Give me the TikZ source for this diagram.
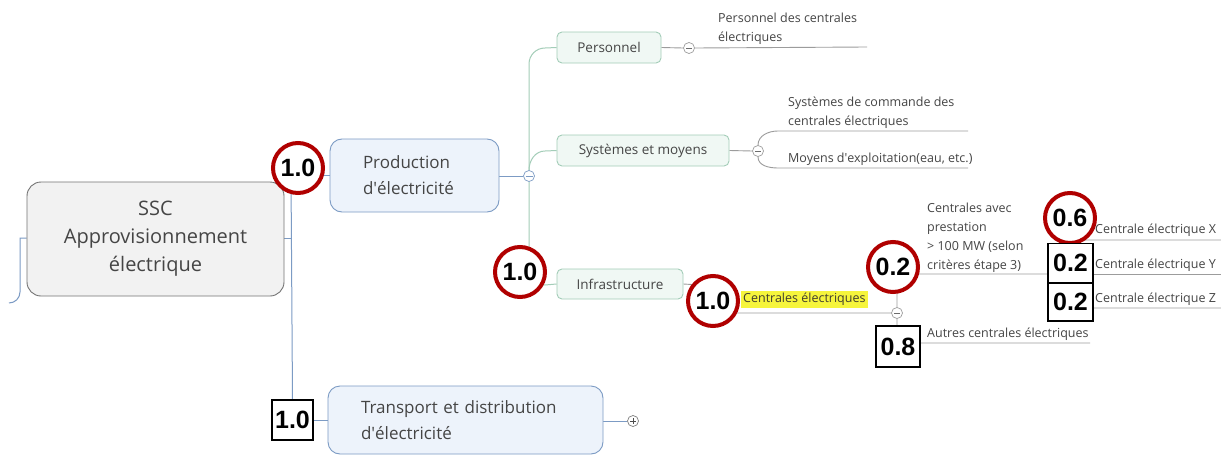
\documentclass[tikz,border=0pt]{standalone}
\usepackage{fontspec}
\setmainfont{Open Sans}
\newfontfamily\numfont{Liberation Sans}
\usetikzlibrary{positioning}
\definecolor{txt}{HTML}{454545}
\definecolor{blueln}{HTML}{7C9BC4}
\definecolor{bluefill}{HTML}{EDF3FB}
\definecolor{greenln}{HTML}{A3CDB8}
\definecolor{greenfill}{HTML}{F0F8F4}
\definecolor{grayln}{HTML}{9C9C9C}
\definecolor{redc}{HTML}{B00000}
\definecolor{hilite}{HTML}{F6F53C}
\pgfdeclarelayer{bg}
\pgfdeclarelayer{paper}
\pgfsetlayers{paper,bg,main}
\newcommand{\apos}{\textquotesingle}
\tikzset{
  mainbox/.style={draw=black!55, fill=black!5, rounded corners=14pt, line width=0.9pt, inner sep=0pt, align=center, text=txt, font=\fontsize{20}{28}\selectfont},
  bluebox/.style={draw=blueln, fill=bluefill, rounded corners=12pt, line width=0.9pt, inner ysep=0pt, align=left, text=txt, font=\fontsize{17}{26}\selectfont},
  greenbox/.style={draw=greenln, fill=greenfill, rounded corners=5pt, line width=0.9pt, inner sep=0pt, text=txt, font=\fontsize{13.5}{17}\selectfont},
  small/.style={text=txt, font=\fontsize{12.5}{19}\selectfont, align=left, inner sep=0pt, anchor=west},
  togglec/.style={circle, draw=grayln, fill=white, minimum size=11pt, inner sep=0pt, line width=0.7pt},
  redcirc/.style={circle, draw=redc, line width=4pt, fill=white, minimum size=50pt, inner sep=0pt, font=\numfont\bfseries\fontsize{25}{25}\selectfont},
  numbox/.style={draw=black, line width=1.2pt, fill=white, inner sep=0pt, font=\numfont\bfseries\fontsize{25}{25}\selectfont},
  bl/.style={draw=blueln, line width=1pt},
  gl/.style={draw=greenln, line width=1pt},
  gr/.style={draw=grayln, line width=0.9pt},
}
\begin{document}
\begin{tikzpicture}[x=1pt,y=-1pt]
\useasboundingbox (0,0) rectangle (1221,455);
\begin{pgfonlayer}{paper}
\fill[white] (0,0) rectangle (1221,455);
\end{pgfonlayer}

% main boxes
\node[mainbox, minimum width=257pt, minimum height=114pt] (ssc) at (155.5,239) {SSC\\Approvisionnement\\électrique};
\node[bluebox, minimum width=169pt, minimum height=73pt, text width=103pt, inner xsep=33pt] (prod) at (414.5,175.5) {Production\\d\apos électricité};
\node[bluebox, minimum width=275pt, minimum height=68pt, text width=209pt, inner xsep=33pt] (trans) at (465.5,420) {Transport et distribution\\d\apos électricité};

\node[greenbox, minimum width=104pt, minimum height=31pt] (pers) at (609,47.5) {Personnel};
\node[greenbox, minimum width=172pt, minimum height=31pt] (sys) at (643,150.5) {Systèmes et moyens};
\node[greenbox, minimum width=126pt, minimum height=30pt] (infra) at (620,284) {Infrastructure};

% toggles
\node[togglec, draw=blueln] (mprod) at (529,176) {};
\draw[blueln, line width=0.8pt] (525.5,176) -- (532.5,176);
\node[togglec] (mpers) at (689,48) {};
\draw[grayln!70!black, line width=0.8pt] (686,48) -- (692,48);
\node[togglec] (msys) at (758,151) {};
\draw[grayln!70!black, line width=0.8pt] (755,151) -- (761,151);
\node[togglec] (mcent) at (897,313) {};
\draw[grayln!70!black, line width=0.8pt] (894,313) -- (900,313);
\node[togglec, draw=grayln!80!black] (pltr) at (633,421) {};
\draw[black!70, line width=0.8pt] (630,421) -- (636,421) (633,418) -- (633,424);

% leaf texts
\node[small] (tpers) at (718,29) {Personnel des centrales\\électriques};
\node[small] (tsys1) at (788,112.5) {Systèmes de commande des\\centrales électriques};
\node[small] (tsys2) at (788,159) {Moyens d\apos exploitation(eau, etc.)};
\node[small, fill=hilite, inner xsep=2pt, inner ysep=2pt, text=black!60!olive!70!black, font=\fontsize{12.5}{15}\selectfont] (tcent) at (741,299.5) {Centrales électriques};
\node[small] (tavec) at (927,238) {Centrales avec\\prestation\\> 100 MW (selon\\critères étape 3)};
\node[small] (tautres) at (927,334) {Autres centrales électriques};
\node[small] (tx) at (1095,230) {Centrale électrique X};
\node[small] (ty) at (1095,265) {Centrale électrique Y};
\node[small] (tz) at (1095,299) {Centrale électrique Z};

% weights
\node[redcirc] (c1) at (298,168) {1.0};
\node[redcirc] (c2) at (520,272) {1.0};
\node[redcirc] (c3) at (713,301) {1.0};
\node[redcirc] (c4) at (893,267) {0.2};
\node[redcirc] (c5) at (1070,218) {0.6};
\node[numbox, minimum width=41pt, minimum height=40pt] (b1) at (292.5,420) {1.0};
\node[numbox, minimum width=44pt, minimum height=41pt] (b2) at (898,346.5) {0.8};
\node[numbox, minimum width=45pt, minimum height=39pt] (b3) at (1070.5,263) {0.2};
\node[numbox, minimum width=45pt, minimum height=38pt] (b4) at (1070.5,302) {0.2};

\coordinate (trunk) at (291,175.5);
\coordinate (lb) at (9,303);

\begin{pgfonlayer}{bg}
% blue connectors
\draw[bl] (ssc.west |- 0,238) -- (20,238) -- (20,292) to[out=-90,in=0] (lb);
\draw[bl] (ssc.east |- 0,238) -- (291,238);
\draw[bl] (trunk) -- (prod.west |- trunk);
\draw[bl] (trunk) -- (b1.north);
\draw[bl] (b1.east) -- (trans.west |- b1.east);
\draw[bl] (prod.east |- mprod) -- (mprod.west);
\draw[bl] (trans.east |- pltr) -- (pltr.west);
% green connectors
\draw[gl] (mprod.north) -- (529,64) to[out=90,in=180] (545,48) -- (pers.west);
\draw[gl] (mprod.north) to[out=90,in=180] (545,151) -- (sys.west);
\draw[gl] (mprod.south) -- (529,270) to[out=-90,in=180] (545,285) -- (infra.west);
% gray connectors
\draw[gr] (pers.east) -- (mpers.west);
\draw[gr] (mpers.east) -- (867,47);
\draw[gr] (sys.east) -- (msys.west);
\draw[gr] (msys.north) to[out=90,in=180] (778,131) -- (968,131);
\draw[gr] (msys.south) to[out=-90,in=180] (778,168) -- (968,168);
\draw[gr] (infra.east) -- (700,285) to[out=0,in=180] (728,313) -- (mcent.west);
\draw[gr] (mcent.north) -- (897,292) to[out=90,in=180] (915,274) -- (1093,274);
\draw[gr] (mcent.south) -- (897,330) to[out=-90,in=180] (915,343) -- (1090,343);
\draw[gr] (1062,274) -- (1062,250) to[out=90,in=180] (1078,240) -- (1221,240);
\draw[gr] (1062,274) -- (1062,298) to[out=-90,in=180] (1078,308) -- (1221,308);
\draw[gr] (1093,274) -- (1221,274);
\end{pgfonlayer}
\end{tikzpicture}
\end{document}
